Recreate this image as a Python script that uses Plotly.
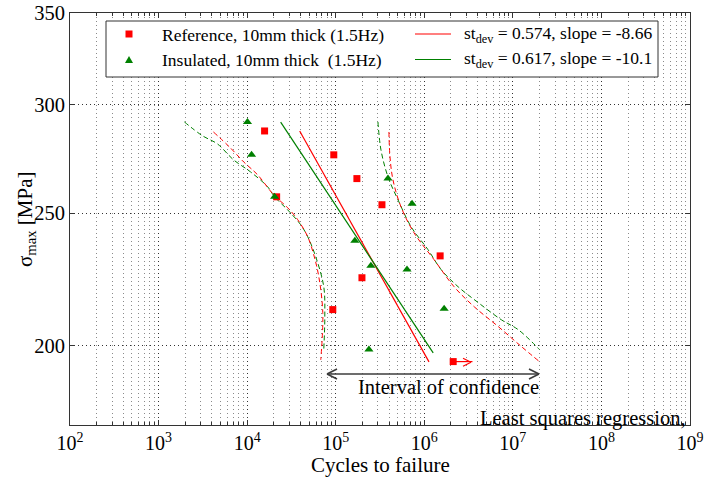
import math
import plotly.graph_objects as go

# ---------------- data ----------------
ref_N = [15740, 95100, 173400, 332700, 21530, 1.51e6, 197800, 92700, 2.12e6]
ref_S = [287.0, 275.7, 264.9, 253.5, 256.9, 232.6, 224.2, 212.5, 194.7]
ins_N = [10090, 11220, 20420, 164400, 249500, 389000, 727600, 638000, 1.675e6, 237000]
ins_S = [291.4, 275.7, 256.9, 238.6, 228.8, 264.9, 253.9, 227.3, 212.8, 198.7]

runout_N = [2.12e6, 3.5e6]
runout_S = [194.7, 194.7]

ref_fit_N = [3.92e4, 1.13e6]
ref_fit_S = [287.0, 194.6]
ins_fit_N = [2.39e4, 1.26e6]
ins_fit_S = [291.3, 197.6]

ref_lo_N = [4163, 6486, 9100, 13120, 19900, 28700, 37240, 48310, 56490, 64400, 71450, 67800]
ref_lo_S = [286.5, 278.9, 272.5, 266.6, 257.8, 252.2, 247.2, 240.2, 233.0, 224.6, 211.4, 195.3]
ref_hi_N = [399000, 410000, 443300, 546000, 766000, 1.291e6, 2.175e6, 3.665e6, 6.853e6, 1.247e7, 1.995e7]
ref_hi_S = [286.5, 274.8, 264.3, 252.6, 241.8, 231.1, 220.8, 213.5, 206.5, 199.7, 194.7]

ins_lo_N = [1955, 3126, 4624, 7015, 10920, 17020, 20420, 28700, 40270, 48310, 59560, 73300, 75300, 73300]
ins_lo_S = [291.4, 284.7, 280.8, 273.4, 267.9, 261.3, 256.9, 251.3, 245.1, 240.2, 232.2, 220.8, 210.0, 198.7]
ins_hi_N = [299700, 324300, 389000, 505000, 709000, 1.104e6, 1.549e6, 2.415e6, 4.067e6, 7.413e6, 1.154e7, 1.995e7]
ins_hi_S = [291.4, 278.0, 265.7, 255.6, 244.3, 235.0, 227.3, 220.8, 215.0, 208.9, 205.4, 198.7]

x_tick_exp = [2, 3, 4, 5, 6, 7, 8, 9]
y_ticks = [200, 250, 300, 350]

x_title = "Cycles to failure"
y_title = "\u03c3<sub>max</sub> [MPa]"
legend_labels = ["Reference, 10mm thick (1.5Hz)",
                 "Insulated, 10mm thick\u00a0 (1.5Hz)",
                 "st<sub>dev</sub> = 0.574, slope = -8.66",
                 "st<sub>dev</sub> = 0.617, slope = -10.1"]

RED = "#ff0000"
GREEN = "#008000"
FONT = "Liberation Serif"

# plot-area pixel geometry helpers (for decorations only)
L, R, T, B = 70, 690, 13, 425
def px(x):
    return (x - L) / (R - L)
def py(y):
    return (B - y) / (B - T)

fig = go.Figure()

dash = "5px,3px"
fig.add_trace(go.Scatter(x=ins_lo_N, y=ins_lo_S, mode="lines", line=dict(color=GREEN, width=1, dash=dash, shape="spline")))
fig.add_trace(go.Scatter(x=ins_hi_N, y=ins_hi_S, mode="lines", line=dict(color=GREEN, width=1, dash=dash, shape="spline")))
fig.add_trace(go.Scatter(x=ref_lo_N, y=ref_lo_S, mode="lines", line=dict(color=RED, width=1, dash=dash, shape="spline")))
fig.add_trace(go.Scatter(x=ref_hi_N, y=ref_hi_S, mode="lines", line=dict(color=RED, width=1, dash=dash, shape="spline")))

fig.add_trace(go.Scatter(x=ref_fit_N, y=ref_fit_S, mode="lines", line=dict(color=RED, width=1.2)))
fig.add_trace(go.Scatter(x=ins_fit_N, y=ins_fit_S, mode="lines", line=dict(color=GREEN, width=1.2)))

fig.add_trace(go.Scatter(x=runout_N, y=runout_S, mode="lines", line=dict(color=RED, width=1.2)))

fig.add_trace(go.Scatter(x=ref_N, y=ref_S, mode="markers",
                         marker=dict(symbol="square", size=7, color=RED)))
fig.add_trace(go.Scatter(x=ins_N, y=ins_S, mode="markers",
                         marker=dict(symbol="triangle-up", size=8, color=GREEN)))

grid_major = "#333333"
grid_minor = "#8a8a8a"
grid_dash = "1px,3px"
minor_vals = [m * 10 ** e for e in range(2, 9) for m in range(2, 10)]

fig.update_xaxes(
    type="log", range=[2, 9], automargin=False,
    tickvals=[10 ** e for e in x_tick_exp],
    ticktext=[f"10<sup>{e}</sup>" for e in x_tick_exp],
    ticks="inside", ticklen=5, tickcolor="#333",
    showgrid=True, gridcolor=grid_major, griddash=grid_dash, gridwidth=1,
    minor=dict(tickvals=minor_vals, showgrid=True, gridcolor=grid_minor,
               griddash=grid_dash, gridwidth=1, ticks="inside", ticklen=3, tickcolor="#333"),
    showline=True, linecolor="#333", linewidth=1, mirror="ticks", zeroline=False,
    tickfont=dict(family=FONT, size=20, color="black"),
)
fig.update_yaxes(
    type="log", range=[math.log10(175), math.log10(350)], automargin=False,
    tickvals=y_ticks, ticktext=[str(v) for v in y_ticks],
    ticks="inside", ticklen=5, tickcolor="#333",
    showgrid=True, gridcolor=grid_major, griddash=grid_dash, gridwidth=1,
    showline=True, linecolor="#333", linewidth=1, mirror="ticks", zeroline=False,
    tickfont=dict(family=FONT, size=20.5, color="black"),
)

shapes = []
# legend box
shapes.append(dict(type="rect", xref="paper", yref="paper",
                   x0=px(106), x1=px(658), y0=py(77), y1=py(21),
                   line=dict(color="#333", width=1), fillcolor="white", layer="above"))
# legend symbols
shapes.append(dict(type="rect", xref="paper", yref="paper",
                   x0=px(125.5), x1=px(132.5), y0=py(37.5), y1=py(30.5),
                   line=dict(color=RED, width=0), fillcolor=RED, layer="above"))
shapes.append(dict(type="path", xref="paper", yref="paper",
                   path=f"M {px(125)},{py(63)} L {px(133)},{py(63)} L {px(129)},{py(56)} Z",
                   line=dict(color=GREEN, width=0), fillcolor=GREEN, layer="above"))
shapes.append(dict(type="line", xref="paper", yref="paper",
                   x0=px(415), x1=px(451), y0=py(34), y1=py(34),
                   line=dict(color=RED, width=1.2), layer="above"))
shapes.append(dict(type="line", xref="paper", yref="paper",
                   x0=px(415), x1=px(451), y0=py(59.5), y1=py(59.5),
                   line=dict(color=GREEN, width=1.2), layer="above"))
# run-out arrow head
for dy in (-4, 4):
    shapes.append(dict(type="line", xref="paper", yref="paper",
                       x0=px(471), y0=py(362.3), x1=px(463), y1=py(362.3 + dy),
                       line=dict(color=RED, width=1.2), layer="above"))
# interval of confidence double arrow
ARW = "#3c3c3c"
shapes.append(dict(type="line", xref="paper", yref="paper",
                   x0=px(327), x1=px(539), y0=py(374), y1=py(374),
                   line=dict(color=ARW, width=1.6), layer="above"))
for xt, xb in ((539, 529), (327, 337)):
    for dy in (-5, 5):
        shapes.append(dict(type="line", xref="paper", yref="paper",
                           x0=px(xt), y0=py(374), x1=px(xb), y1=py(374 + dy),
                           line=dict(color=ARW, width=1.6), layer="above"))

annotations = []
for txt, x, y in ((legend_labels[0], 160, 34.5), (legend_labels[1], 160, 59.5),
                  (legend_labels[2], 462, 34.5), (legend_labels[3], 462, 59.5)):
    annotations.append(dict(text=txt, xref="paper", yref="paper", x=px(x), y=py(y),
                            xanchor="left", yanchor="middle", showarrow=False,
                            font=dict(family=FONT, size=17.5, color="black")))
annotations.append(dict(text="Interval of confidence", xref="paper", yref="paper",
                        x=px(541), y=py(387), xanchor="right", yanchor="middle",
                        showarrow=False, font=dict(family=FONT, size=20.5, color="black")))
annotations.append(dict(text="Least squares regression,", xref="paper", yref="paper",
                        x=px(688), y=py(418), xanchor="right", yanchor="middle",
                        showarrow=False, font=dict(family=FONT, size=20.5, color="black")))
# axis titles
annotations.append(dict(text=x_title, xref="paper", yref="paper",
                        x=0.5, y=py(465), xanchor="center", yanchor="middle",
                        showarrow=False, font=dict(family=FONT, size=21, color="black")))
annotations.append(dict(text=y_title, xref="paper", yref="paper",
                        x=px(26), y=py(219), xanchor="center", yanchor="middle",
                        textangle=-90, showarrow=False,
                        font=dict(family=FONT, size=21, color="black")))

fig.update_layout(
    width=706, height=477,
    margin=dict(l=L, r=706 - R, t=T, b=477 - B),
    plot_bgcolor="white", paper_bgcolor="white",
    showlegend=False,
    font=dict(family=FONT, size=20, color="black"),
    shapes=shapes, annotations=annotations,
)

fig.write_html("out.html")
